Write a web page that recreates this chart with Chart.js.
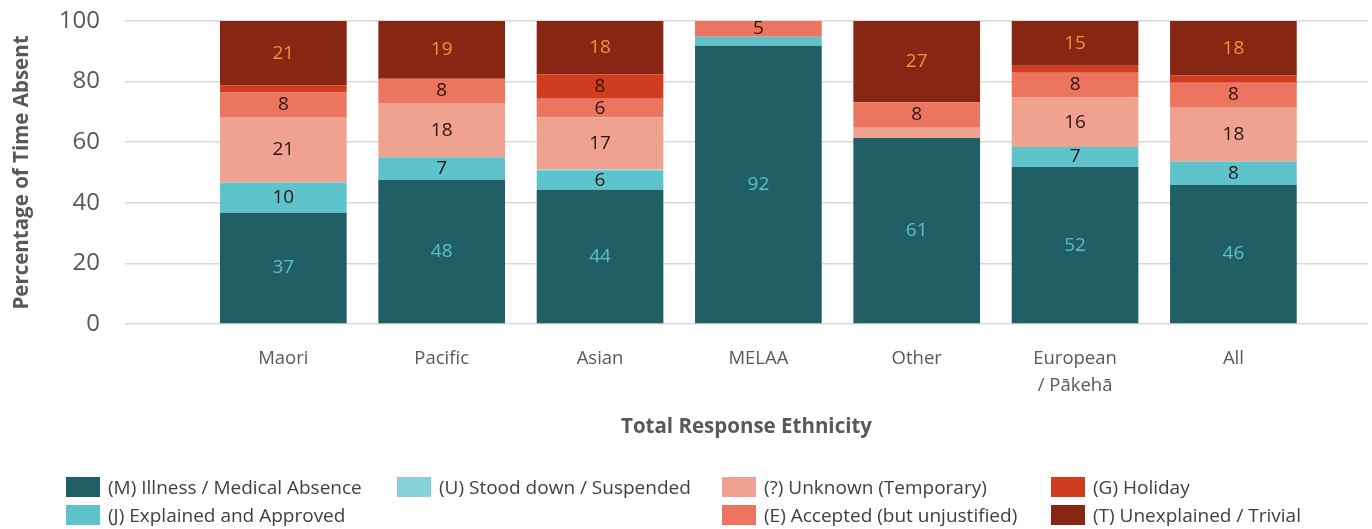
<!DOCTYPE html>
<html>
<head>
<meta charset="utf-8">
<script src="https://cdn.jsdelivr.net/npm/chart.js@4.4.1/dist/chart.umd.min.js"></script>
<style>
  body { margin: 0; background: #fff; }
  #wrap { position: relative; width: 1372px; height: 529px; }
  #legend { position: absolute; left: 0; top: 0; width: 1372px; height: 529px; pointer-events: none;
            font-family: 'Open Sans', sans-serif; font-size: 19px; color: #404040; }
  .item { position: absolute; display: flex; align-items: center; white-space: nowrap; }
  .sw { width: 34px; height: 20px; margin-right: 8px; }
</style>
</head>
<body>
<div id="wrap">
  <canvas id="chart" width="1372" height="529"></canvas>
  <div id="legend"></div>
</div>
<script>
// Categorias (eje x)
const categories = ['Maori', 'Pacific', 'Asian', 'MELAA', 'Other', ['European', '/ Pākehā'], 'All'];

// Porcentaje del tiempo ausente, por tipo de ausencia
const illness     = [36.7, 47.6, 44.3, 91.8, 61.4, 51.8, 45.9];
const explained   = [10.0,  7.4,  6.2,  3.0,  0.0,  6.6,  7.7];
const stoodDown   = [ 0.0,  0.0,  0.5,  0.0,  0.0,  0.0,  0.0];
const unknown     = [21.4, 17.9, 17.2,  0.0,  3.4, 16.4, 18.0];
const accepted    = [ 8.3,  8.0,  6.1,  5.2,  8.4,  8.1,  8.0];
const holiday     = [ 2.4,  0.0,  8.1,  0.0,  0.0,  2.3,  2.4];
const unexplained = [21.2, 19.1, 17.6,  0.0, 26.8, 14.8, 18.0];

const yTicks = [0, 20, 40, 60, 80, 100];

const toPoints = arr => arr.map((v, i) => ({ x: i, y: v }));

// color de la etiqueta dentro de cada segmento
const darkText = '#2e1512';

const series = [
  { label: '(M) Illness / Medical Absence', data: illness,     color: '#215f66', text: '#5cbfc8', cell: [0, 0] },
  { label: '(J) Explained and Approved',    data: explained,   color: '#5fc3cb', text: darkText,  cell: [0, 1] },
  { label: '(U) Stood down / Suspended',    data: stoodDown,   color: '#88d2da', text: darkText,  cell: [1, 0] },
  { label: '(?) Unknown (Temporary)',       data: unknown,     color: '#f0a290', text: darkText,  cell: [2, 0] },
  { label: '(E) Accepted (but unjustified)', data: accepted,   color: '#ec7560', text: darkText,  cell: [2, 1] },
  { label: '(G) Holiday',                   data: holiday,     color: '#d13c1e', text: darkText,  cell: [3, 0] },
  { label: '(T) Unexplained / Trivial',     data: unexplained, color: '#862613', text: '#f0913f', cell: [3, 1] }
];

// valores dentro de las barras
const segmentLabels = {
  id: 'segmentLabels',
  afterDatasetsDraw(chart) {
    const ctx = chart.ctx;
    ctx.save();
    ctx.font = '19px "Open Sans", sans-serif';
    ctx.textAlign = 'center';
    ctx.textBaseline = 'middle';
    chart.data.datasets.forEach((ds, di) => {
      const meta = chart.getDatasetMeta(di);
      meta.data.forEach((bar, i) => {
        const v = Math.round(ds.data[i].y);
        if (v < 5) return;
        ctx.fillStyle = series[di].text;
        ctx.fillText(v, bar.x, (bar.y + bar.base) / 2);
      });
    });
    ctx.restore();
  }
};

const ctx = document.getElementById('chart').getContext('2d');
const grey = '#595959';

new Chart(ctx, {
  type: 'bar',
  data: {
    datasets: series.map(s => ({
      label: s.label,
      data: toPoints(s.data),
      backgroundColor: s.color,
      borderWidth: 0,
      categoryPercentage: 0.8,
      barPercentage: 1.0
    }))
  },
  options: {
    responsive: false,
    animation: false,
    layout: { padding: { top: 21, right: 4, bottom: 69, left: 0 } },
    plugins: {
      legend: { display: false },
      tooltip: { enabled: false }
    },
    scales: {
      x: {
        type: 'linear',
        stacked: true,
        offset: false,
        min: -1,
        max: 6.85,
        grid: { display: false, drawTicks: false },
        border: { display: false },
        afterBuildTicks: s => { s.ticks = categories.map((c, i) => ({ value: i })); },
        afterFit: s => { s.height = 136; },
        ticks: {
          autoSkip: false,
          maxRotation: 0,
          padding: 21,
          color: grey,
          font: { family: '"Open Sans", sans-serif', size: 18.5, lineHeight: 1.46 },
          callback: v => categories[v]
        },
        title: {
          display: true,
          text: 'Total Response Ethnicity',
          color: grey,
          padding: { top: 0, bottom: 21 },
          font: { family: '"Open Sans", sans-serif', size: 20.5, weight: 'bold', lineHeight: 1.2 }
        }
      },
      y: {
        stacked: true,
        min: 0,
        max: 100,
        afterBuildTicks: s => { s.ticks = yTicks.map(v => ({ value: v })); },
        afterFit: s => { s.width = 125; s.paddingTop = 0; s.paddingBottom = 0; },
        grid: { color: '#d9d9d9', lineWidth: 1.5, drawTicks: false },
        border: { display: false },
        ticks: {
          padding: 25,
          color: grey,
          font: { family: '"Open Sans", sans-serif', size: 24 }
        },
        title: {
          display: true,
          text: 'Percentage of Time Absent',
          color: grey,
          padding: { top: 10, bottom: 0 },
          font: { family: '"Open Sans", sans-serif', size: 20.5, weight: 'bold', lineHeight: 1.2 }
        }
      }
    }
  },
  plugins: [segmentLabels]
});

// leyenda en HTML, en rejilla de 4 columnas x 2 filas
const legendCols = [66, 397, 722, 1051];
const legendRows = [487, 515];
const legend = document.getElementById('legend');
series.forEach(s => {
  const el = document.createElement('div');
  el.className = 'item';
  el.style.left = legendCols[s.cell[0]] + 'px';
  el.style.top = (legendRows[s.cell[1]] - 12) + 'px';
  el.style.height = '24px';
  el.innerHTML = '<span class="sw" style="background:' + s.color + '"></span><span>' + s.label + '</span>';
  legend.appendChild(el);
});
</script>
</body>
</html>
